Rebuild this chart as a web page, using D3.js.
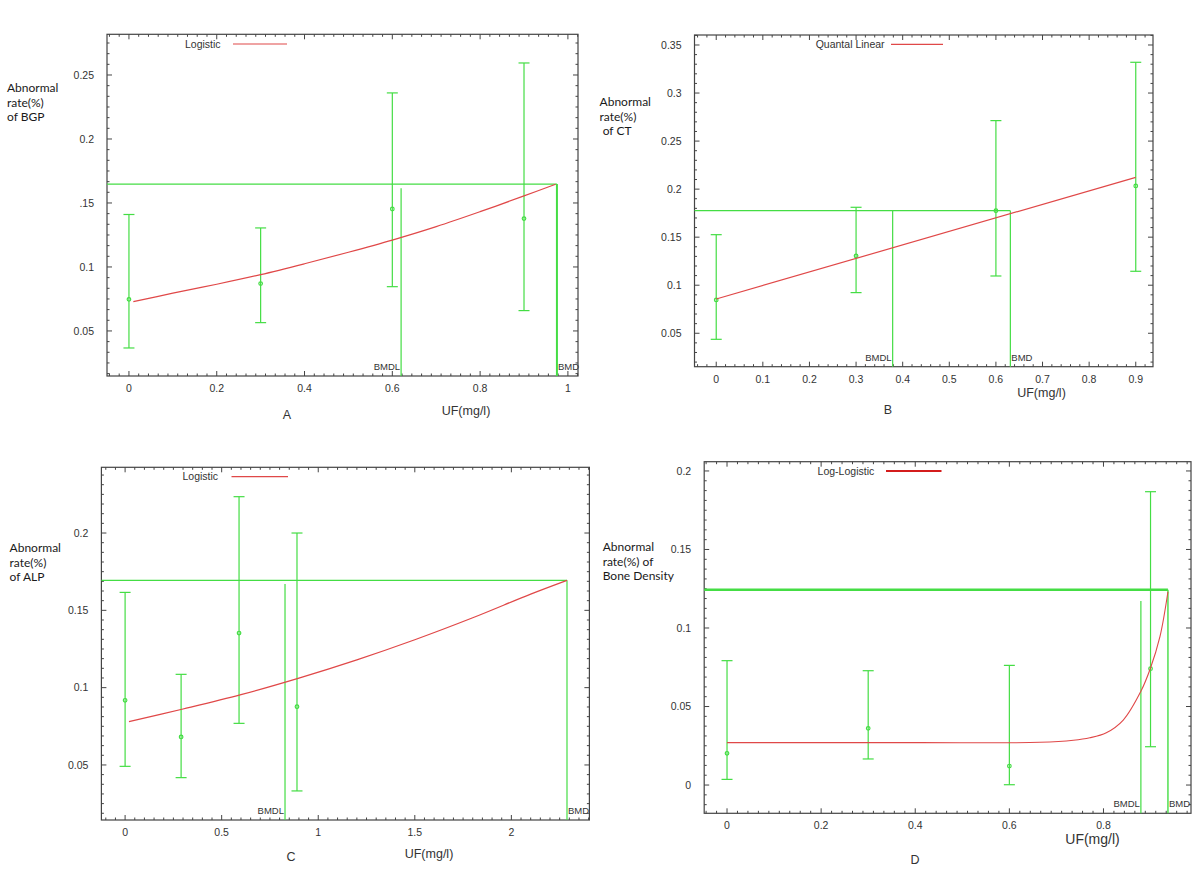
<!DOCTYPE html>
<html>
<head>
<meta charset="utf-8">
<script src="https://cdn.jsdelivr.net/npm/d3@7"></script>
<style>
  body { margin: 0; background: #fff; }
  svg text { font-family: "Liberation Sans", Arial, sans-serif; fill: #333; }
  .ylab { font-family: Lato, "Open Sans", sans-serif; fill: #1a1a1a; }
</style>
</head>
<body>
<svg id="chart" width="1200" height="887"></svg>
<script>
// ---- data ----

// A : BGP, logistic model
const dosesA = [0, 0.3, 0.6, 0.9];
const meansA = [0.0747, 0.087, 0.1453, 0.1378];
const lowerA = [0.0367, 0.0565, 0.0846, 0.0659];
const upperA = [0.141, 0.1305, 0.236, 0.2594];
const fitXA = [0.01, 0.1, 0.2, 0.3, 0.4, 0.5, 0.6, 0.7, 0.8, 0.9, 0.972];
const fitYA = [0.0729, 0.0795, 0.0865, 0.094, 0.1025, 0.1115, 0.121, 0.1315, 0.1432, 0.1555, 0.1646];
const bmdA = [0.975, 0.62, 0.1648, 0.1615]; // BMD, BMDL, BMR level, BMDL line top
const xTicksA = [0, 0.2, 0.4, 0.6, 0.8, 1];
const xTickLabelsA = ["0", "0.2", "0.4", "0.6", "0.8", "1"];
const yTicksA = [0.05, 0.1, 0.15, 0.2, 0.25];
const yTickLabelsA = ["0.05", "0.1", ".15", "0.2", "0.25"];
const xDomainA = [-0.05, 1.023];
const yDomainA = [0.0148, 0.2818];

// B : CT, quantal linear model
const dosesB = [0, 0.3, 0.6, 0.9];
const meansB = [0.0847, 0.1304, 0.1776, 0.2033];
const lowerB = [0.0437, 0.0923, 0.1096, 0.1145];
const upperB = [0.1526, 0.1811, 0.2713, 0.332];
const fitXB = [0, 0.9];
const fitYB = [0.0857, 0.2123];
const bmdB = [0.631, 0.3785, 0.1776, 0.1776];
const xTicksB = [0, 0.1, 0.2, 0.3, 0.4, 0.5, 0.6, 0.7, 0.8, 0.9];
const xTickLabelsB = ["0", "0.1", "0.2", "0.3", "0.4", "0.5", "0.6", "0.7", "0.8", "0.9"];
const yTicksB = [0.05, 0.1, 0.15, 0.2, 0.25, 0.3, 0.35];
const yTickLabelsB = ["0.05", "0.1", "0.15", "0.2", "0.25", "0.3", "0.35"];
const xDomainB = [-0.0466, 0.937];
const yDomainB = [0.0152, 0.3604];

// C : ALP, logistic model
const dosesC = [0, 0.29, 0.59, 0.89];
const meansC = [0.0918, 0.0681, 0.1353, 0.0877];
const lowerC = [0.0491, 0.0418, 0.0769, 0.0332];
const upperC = [0.1616, 0.1086, 0.2235, 0.2];
const fitXC = [0.02, 0.3, 0.6, 0.9, 1.2, 1.5, 1.8, 2.1, 2.288];
const fitYC = [0.078, 0.0862, 0.0955, 0.1062, 0.118, 0.131, 0.1452, 0.1605, 0.1694];
const bmdC = [2.288, 0.828, 0.1694, 0.167];
const xTicksC = [0, 0.5, 1, 1.5, 2];
const xTickLabelsC = ["0", "0.5", "1", "1.5", "2"];
const yTicksC = [0.05, 0.1, 0.15, 0.2];
const yTickLabelsC = ["0.05", "0.1", "0.15", "0.2"];
const xDomainC = [-0.1227, 2.404];
const yDomainC = [0.0144, 0.2425];

// D : bone density, log-logistic model
const dosesD = [0, 0.3, 0.6, 0.9];
const meansD = [0.0202, 0.0361, 0.0121, 0.0741];
const lowerD = [0.0036, 0.0166, 0.0002, 0.0244];
const upperD = [0.0792, 0.0728, 0.0762, 0.1868];
const fitXD = [0, 0.4, 0.665, 0.736, 0.771, 0.806, 0.842, 0.88, 0.899, 0.92, 0.937];
const fitYD = [0.027, 0.027, 0.0272, 0.0285, 0.0301, 0.0333, 0.0414, 0.06, 0.0737, 0.0945, 0.1231];
const bmdD = [0.937, 0.8795, 0.1244, 0.1172];
const xTicksD = [0, 0.2, 0.4, 0.6, 0.8];
const xTickLabelsD = ["0", "0.2", "0.4", "0.6", "0.8"];
const yTicksD = [0, 0.05, 0.1, 0.15, 0.2];
const yTickLabelsD = ["0", "0.05", "0.1", "0.15", "0.2"];
const xDomainD = [-0.0485, 0.986];
const yDomainD = [-0.018, 0.2059];

const modelNames = ["Logistic", "Quantal Linear", "Logistic", "Log-Logistic"];
const panelLetters = ["A", "B", "C", "D"];
const yTitles = [
  ["Abnormal", "rate(%)", "of BGP"],
  ["Abnormal", "rate(%)", " of CT"],
  ["Abnormal", "rate(%)", "of ALP"],
  ["Abnormal", "rate(%) of", "Bone Density"]
];
const xTitle = "UF(mg/l)";

const green = "#44dd44";
const red = "#e04848";

var svg = d3.select("#chart");

// layout of each panel (pixel boxes), styles
var panels = [
  { box: [107, 34.3, 578, 376], xd: xDomainA, yd: yDomainA, xt: xTicksA, xl: xTickLabelsA, yt: yTicksA, yl: yTickLabelsA,
    doses: dosesA, means: meansA, lo: lowerA, hi: upperA, fx: fitXA, fy: fitYA, bmd: bmdA,
    legend: [185, 44, 233, 287], yTitle: [7, 92], xTitlePos: [466, 415, 12.5], letter: [287, 419],
    bmrW: 1.2, bmdW: 2, fitW: 1.2, legW: 1.2, legColor: red },
  { box: [694.5, 35, 1153, 366.7], xd: xDomainB, yd: yDomainB, xt: xTicksB, xl: xTickLabelsB, yt: yTicksB, yl: yTickLabelsB,
    doses: dosesB, means: meansB, lo: lowerB, hi: upperB, fx: fitXB, fy: fitYB, bmd: bmdB,
    legend: [815.7, 44.3, 891, 943], yTitle: [599.6, 106], xTitlePos: [1041.5, 397, 12.5], letter: [888, 414],
    bmrW: 1.2, bmdW: 1.2, fitW: 1.2, legW: 1.2, legColor: red },
  { box: [101.4, 467.3, 589.4, 820], xd: xDomainC, yd: yDomainC, xt: xTicksC, xl: xTickLabelsC, yt: yTicksC, yl: yTickLabelsC,
    doses: dosesC, means: meansC, lo: lowerC, hi: upperC, fx: fitXC, fy: fitYC, bmd: bmdC,
    legend: [182.5, 476.7, 231.5, 288], yTitle: [9.6, 552], xTitlePos: [429, 858, 12.5], letter: [291, 861],
    bmrW: 1.2, bmdW: 1.2, fitW: 1.2, legW: 1.2, legColor: red },
  { box: [704.2, 461.7, 1191, 813.3], xd: xDomainD, yd: yDomainD, xt: xTicksD, xl: xTickLabelsD, yt: yTicksD, yl: yTickLabelsD,
    doses: dosesD, means: meansD, lo: lowerD, hi: upperD, fx: fitXD, fy: fitYD, bmd: bmdD,
    legend: [817.6, 471, 886, 941.5], yTitle: [602.7, 551], xTitlePos: [1092.5, 844, 14], letter: [915, 864],
    bmrW: 2.6, bmdW: 1.4, fitW: 1.1, legW: 2, legColor: "#d41c1c" }
];

panels.forEach(function (p, i) {
  var [x0, y0, x1, y1] = p.box;
  var x = d3.scaleLinear().domain(p.xd).range([x0, x1]);
  var y = d3.scaleLinear().domain(p.yd).range([y1, y0]);
  var g = svg.append("g").attr("class", "panel");

  // frame
  g.append("rect")
    .attr("x", x0).attr("y", y0)
    .attr("width", x1 - x0).attr("height", y1 - y0)
    .attr("fill", "none").attr("stroke", "#444").attr("stroke-width", 1.2);

  // minor ticks, inward on all four sides
  var xStep = p.xt[1] - p.xt[0], yStep = p.yt[1] - p.yt[0];
  var nx = Math.max(2, Math.round((x(p.xt[1]) - x(p.xt[0])) / 10));
  var ny = Math.max(2, Math.round((y(p.yt[0]) - y(p.yt[1])) / 10));
  var xMinor = d3.range(Math.ceil(p.xd[0] / (xStep / nx)), Math.floor(p.xd[1] / (xStep / nx)) + 1)
    .map(k => k * xStep / nx);
  var yMinor = d3.range(Math.ceil(p.yd[0] / (yStep / ny)), Math.floor(p.yd[1] / (yStep / ny)) + 1)
    .map(k => k * yStep / ny);

  var ticks = g.append("g").attr("stroke", "#444").attr("stroke-width", 1);
  xMinor.forEach(function (v) {
    var big = p.xt.some(t => Math.abs(t - v) < 1e-9);
    var len = big ? 5 : 2.5;
    ticks.append("line").attr("x1", x(v)).attr("x2", x(v)).attr("y1", y1).attr("y2", y1 - len);
    ticks.append("line").attr("x1", x(v)).attr("x2", x(v)).attr("y1", y0).attr("y2", y0 + len);
  });
  yMinor.forEach(function (v) {
    var big = p.yt.some(t => Math.abs(t - v) < 1e-9);
    var len = big ? 5 : 2.5;
    ticks.append("line").attr("x1", x0).attr("x2", x0 + len).attr("y1", y(v)).attr("y2", y(v));
    ticks.append("line").attr("x1", x1).attr("x2", x1 - len).attr("y1", y(v)).attr("y2", y(v));
  });

  // tick labels
  g.selectAll(".xtl").data(p.xt).enter().append("text")
    .attr("x", d => x(d)).attr("y", y1 + 16)
    .attr("text-anchor", "middle").attr("font-size", 10.5)
    .text((d, k) => p.xl[k]);
  g.selectAll(".ytl").data(p.yt).enter().append("text")
    .attr("x", x0 - 13).attr("y", d => y(d) + 3.8)
    .attr("text-anchor", "end").attr("font-size", 10.5)
    .text((d, k) => p.yl[k]);

  // BMR horizontal line and BMD / BMDL verticals
  var [bmd, bmdl, bmr, bmdlTop] = p.bmd;
  g.append("line").attr("x1", x0).attr("x2", x(bmd)).attr("y1", y(bmr)).attr("y2", y(bmr))
    .attr("stroke", green).attr("stroke-width", p.bmrW);
  g.append("line").attr("x1", x(bmd)).attr("x2", x(bmd)).attr("y1", y(bmr)).attr("y2", y1)
    .attr("stroke", green).attr("stroke-width", p.bmdW);
  g.append("line").attr("x1", x(bmdl)).attr("x2", x(bmdl)).attr("y1", y(bmdlTop)).attr("y2", y1)
    .attr("stroke", green).attr("stroke-width", 1.2);
  g.append("text").attr("x", x(bmdl) - 1).attr("y", y1 - 6)
    .attr("text-anchor", "end").attr("font-size", 9.5).attr("fill", "#222").text("BMDL");
  g.append("text").attr("x", x(bmd) + 1).attr("y", y1 - 6)
    .attr("font-size", 9.5).attr("fill", "#222").text("BMD");

  // error bars
  var eb = g.append("g").attr("stroke", green).attr("stroke-width", 1.2).attr("fill", "none");
  p.doses.forEach(function (d, k) {
    eb.append("line").attr("x1", x(d)).attr("x2", x(d)).attr("y1", y(p.lo[k])).attr("y2", y(p.hi[k]));
    eb.append("line").attr("x1", x(d) - 5.5).attr("x2", x(d) + 5.5).attr("y1", y(p.lo[k])).attr("y2", y(p.lo[k]));
    eb.append("line").attr("x1", x(d) - 5.5).attr("x2", x(d) + 5.5).attr("y1", y(p.hi[k])).attr("y2", y(p.hi[k]));
    eb.append("circle").attr("cx", x(d)).attr("cy", y(p.means[k])).attr("r", 1.8);
  });

  // fitted model curve
  var fit = p.fx.map((v, k) => [v, p.fy[k]]);
  g.append("path").datum(fit)
    .attr("d", d3.line().x(d => x(d[0])).y(d => y(d[1])).curve(d3.curveCatmullRom.alpha(0.5)))
    .attr("fill", "none").attr("stroke", red).attr("stroke-width", p.fitW);

  // legend
  var [lx, ly, lx1, lx2] = p.legend;
  g.append("text").attr("x", lx).attr("y", ly + 3.6).attr("font-size", 10.5).text(modelNames[i]);
  g.append("line").attr("x1", lx1).attr("x2", lx2).attr("y1", ly).attr("y2", ly)
    .attr("stroke", p.legColor).attr("stroke-width", p.legW);

  // y title (three lines)
  yTitles[i].forEach(function (t, k) {
    g.append("text").attr("class", "ylab")
      .attr("x", p.yTitle[0]).attr("y", p.yTitle[1] + k * 14.5)
      .attr("font-size", 12).attr("xml:space", "preserve")
      .style("white-space", "pre").text(t);
  });

  // x title and panel letter
  g.append("text").attr("x", p.xTitlePos[0]).attr("y", p.xTitlePos[1])
    .attr("text-anchor", "middle").attr("font-size", p.xTitlePos[2]).text(xTitle);
  g.append("text").attr("x", p.letter[0]).attr("y", p.letter[1])
    .attr("text-anchor", "middle").attr("font-size", 12.5).text(panelLetters[i]);
});
</script>
</body>
</html>
